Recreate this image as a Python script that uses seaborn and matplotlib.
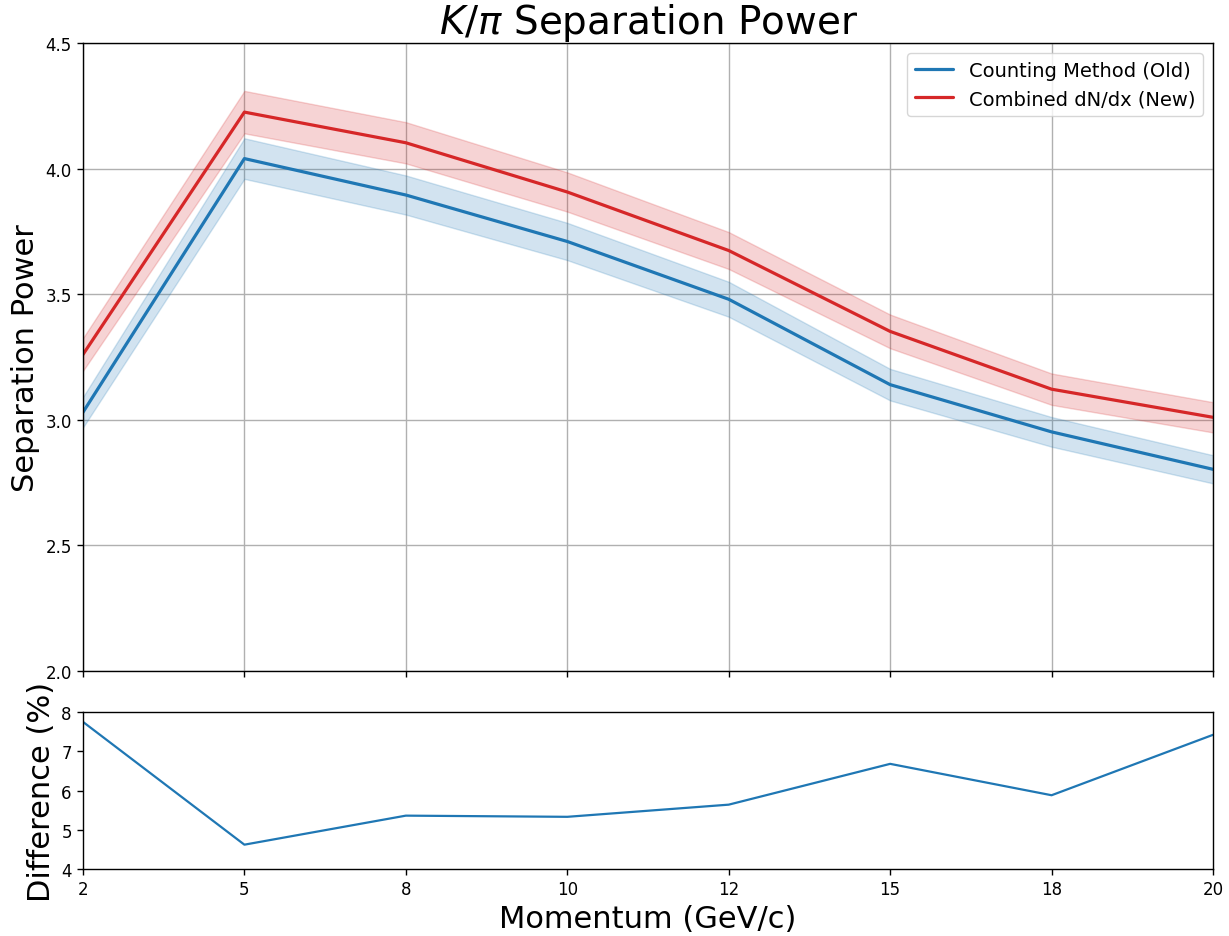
import numpy as np
import pandas as pd
import matplotlib
matplotlib.use("Agg")
import matplotlib.pyplot as plt
import seaborn as sns

# Momentum bins (GeV/c)
momentum = ["2", "5", "8", "10", "12", "15", "18", "20"]

# K/pi separation power for each method
counting_old = [3.03, 4.04, 3.895, 3.71, 3.48, 3.14, 2.952, 2.803]
combined_new = [3.26, 4.225, 4.103, 3.907, 3.674, 3.352, 3.122, 3.01]

# Relative improvement of the combined method (%)
difference_pct = [7.75, 4.62, 5.36, 5.33, 5.64, 6.68, 5.88, 7.42]

# Relative uncertainty shown as the shaded band
rel_unc = 0.02

blue = "#1f77b4"
red = "#d62728"

sns.set_style("ticks")
plt.rcParams.update({
    "font.family": ["DejaVu Sans"],
    "text.color": "black",
    "axes.labelcolor": "black",
    "xtick.color": "black",
    "ytick.color": "black",
    "axes.edgecolor": "black",
    "grid.color": "#b0b0b0",
    "legend.edgecolor": "0.8",
})

pos = np.arange(len(momentum))
df = pd.DataFrame({
    "pos": np.concatenate([pos, pos]),
    "power": counting_old + combined_new,
    "method": ["Counting Method (Old)"] * len(pos) + ["Combined dN/dx (New)"] * len(pos),
})
diff_df = pd.DataFrame({"pos": pos, "diff": difference_pct})

fig = plt.figure(figsize=(12.29, 9.37), dpi=100)
ax = fig.add_axes([0.0675, 0.2828, 0.9195, 0.6702])
ax2 = fig.add_axes([0.0675, 0.0715, 0.9195, 0.1675], sharex=ax)

for vals, col in [(counting_old, blue), (combined_new, red)]:
    v = np.asarray(vals)
    ax.fill_between(pos, v * (1 - rel_unc), v * (1 + rel_unc), color=col, alpha=0.2, lw=1)

sns.lineplot(data=df, x="pos", y="power", hue="method",
             palette=[blue, red], linewidth=2.3, ax=ax)

ax.set_ylim(2.0, 4.5)
ax.set_xlim(0, len(momentum) - 1)
ax.set_yticks([2.0, 2.5, 3.0, 3.5, 4.0, 4.5])
ax.grid(True, color="#b0b0b0", linewidth=1)
ax.set_xlabel("")
ax.set_ylabel("Separation Power", fontsize=22)
ax.set_title(r"$K/\pi$ Separation Power", fontsize=28)
ax.tick_params(axis="x", labelbottom=False, length=4.5, width=1, direction="out", bottom=True)
ax.tick_params(axis="y", labelsize=12, length=4.5, width=1, direction="out", left=True)
leg = ax.legend(loc="upper right", fontsize=14, frameon=True, fancybox=True, framealpha=0.8)
for line in leg.get_lines():
    line.set_linewidth(2.3)

sns.lineplot(data=diff_df, x="pos", y="diff", color=blue, linewidth=1.6, ax=ax2)
ax2.set_ylim(4, 8)
ax2.set_yticks([4, 5, 6, 7, 8])
ax2.set_xticks(pos)
ax2.set_xticklabels(momentum)
ax2.set_xlim(0, len(momentum) - 1)
ax2.set_xlabel("Momentum (GeV/c)", fontsize=22)
ax2.set_ylabel("Difference (%)", fontsize=22)
ax2.tick_params(labelsize=12, length=4.5, width=1, direction="out", bottom=True, left=True)

for a in (ax, ax2):
    for s in a.spines.values():
        s.set_color("black")
        s.set_linewidth(1)

fig.savefig("out.png", dpi=100)
